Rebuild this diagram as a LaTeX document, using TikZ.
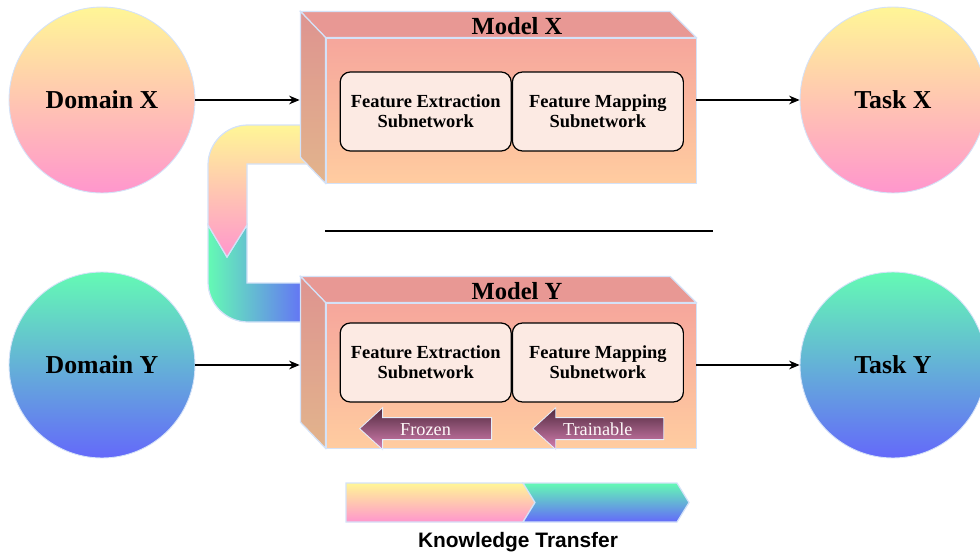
\documentclass[tikz,border=0pt]{standalone}
\usepackage{fontspec}
\setmainfont{Liberation Serif}
\setsansfont{Liberation Sans}
\usetikzlibrary{arrows.meta, positioning, calc}
\definecolor{srcTop}{RGB}{255,246,150}
\definecolor{srcBot}{RGB}{255,150,205}
\definecolor{tgtTop}{RGB}{100,250,180}
\definecolor{tgtBot}{RGB}{100,105,250}
\definecolor{faceTop}{RGB}{232,152,148}
\definecolor{frontTop}{RGB}{246,166,156}
\definecolor{frontBot}{RGB}{255,204,160}
\definecolor{sideTop}{RGB}{222,148,144}
\definecolor{sideBot}{RGB}{226,180,140}
\definecolor{subFill}{RGB}{252,234,227}
\definecolor{rimcolor}{RGB}{212,226,248}
\definecolor{tagTop}{RGB}{80,42,62}
\definecolor{tagBot}{RGB}{214,128,178}

\begin{document}
\begin{tikzpicture}[x=0.02cm, y=-0.02cm,
    >={Stealth[length=6pt, width=5pt]},
    flow/.style={->, line width=0.6pt},
    rimline/.style={draw=rimcolor, line width=0.7pt},
    ball/.style={circle, draw=rimcolor, line width=0.5pt, minimum size=3.72cm, font=\fontsize{14.7}{17}\selectfont\bfseries},
    srcball/.style={ball, top color=srcTop, bottom color=srcBot},
    tgtball/.style={ball, top color=tgtTop, bottom color=tgtBot},
    facebox/.style={draw=rimcolor, line width=0.5pt, minimum width=7.4cm, minimum height=2.9cm, inner sep=0pt, top color=frontTop, bottom color=frontBot},
    subnet/.style={draw, line width=0.7pt, rounded corners=0.2cm, fill=subFill, minimum width=3.42cm, minimum height=1.58cm, align=center, font=\fontsize{10.5}{11.3}\selectfont\bfseries},
    modtitle/.style={font=\fontsize{14}{16}\selectfont\bfseries},
    tagarrow/.style={draw=rimcolor!60!white, line width=0.5pt, top color=tagTop, bottom color=tagBot},
    tagtext/.style={text=white!92!pink, font=\fontsize{10.4}{12}\selectfont},
]
    \useasboundingbox (0,0) rectangle (980,554);

    % domains and tasks
    \node[srcball] (domX) at (102,100) {Domain X};
    \node[tgtball] (domY) at (102,365) {Domain Y};
    \node[srcball] (taskX) at (893,100) {Task X};
    \node[tgtball] (taskY) at (893,365) {Task Y};

    % transfer from model X down to model Y
    \shade[rimline, left color=tgtTop, right color=tgtBot] (208,225) -- (227,257) -- (247,225) -- (247,283) -- (310,283) -- (310,322) -- (248,322) .. controls (226,322) and (208,304) .. (208,282) -- cycle;
    \shade[rimline, top color=srcTop, bottom color=srcBot] (312,125) -- (248,125) .. controls (226,125) and (208,143) .. (208,165) -- (208,225) -- (227,257) -- (247,225) -- (247,164) -- (312,164) -- cycle;

    % model X
    \node[facebox] (modXf) at (511,110.5) {};
    \path[rimline, fill=faceTop] (modXf.north west) -- ++(-25,-26) -- ($(modXf.north east)+(-26,-26)$) -- (modXf.north east) -- cycle;
    \shade[rimline, top color=sideTop, bottom color=sideBot] (modXf.north west) -- ++(-25,-26) -- ($(modXf.south west)+(-25,-26)$) -- (modXf.south west) -- cycle;
    \node[modtitle] (modXt) at ($(modXf.north)+(6,-11)$) {Model X};
    \node[subnet, anchor=west] (feX) at ($(modXf.west)+(14,1)$) {Feature Extraction\\Subnetwork};
    \node[subnet, right=0pt of feX] (fmX) {Feature Mapping\\Subnetwork};
    \coordinate (modXin) at ($(modXf.west)+(-26,0)$);

    % model Y
    \node[facebox] (modYf) at (511,375.5) {};
    \path[rimline, fill=faceTop] (modYf.north west) -- ++(-25,-26) -- ($(modYf.north east)+(-26,-26)$) -- (modYf.north east) -- cycle;
    \shade[rimline, top color=sideTop, bottom color=sideBot] (modYf.north west) -- ++(-25,-26) -- ($(modYf.south west)+(-25,-26)$) -- (modYf.south west) -- cycle;
    \node[modtitle] (modYt) at ($(modYf.north)+(6,-11)$) {Model Y};
    \node[subnet, anchor=west] (feY) at ($(modYf.west)+(14,-13)$) {Feature Extraction\\Subnetwork};
    \node[subnet, right=0pt of feY] (fmY) {Feature Mapping\\Subnetwork};
    \coordinate (modYin) at ($(modYf.west)+(-26,0)$);

    % frozen / trainable tags
    \shade[tagarrow] ($(feY.south west)+(20,26)$) -- ++(23,-21) -- ++(0,10) -- ++(109,0) -- ++(0,22) -- ++(-109,0) -- ++(0,10) -- cycle;
    \node[tagtext] (frz) at ($(feY.south west)+(86,27)$) {Frozen};
    \shade[tagarrow] ($(fmY.south west)+(21,26)$) -- ++(23,-21) -- ++(0,10) -- ++(108,0) -- ++(0,22) -- ++(-108,0) -- ++(0,10) -- cycle;
    \node[tagtext] (trn) at ($(fmY.south west)+(86,27)$) {Trainable};

    % separator
    \draw[line width=0.6pt] (325,231) -- (713,231);

    % data flow
    \draw[flow] (domX) -- (domX -| modXin);
    \draw[flow] (modXf.east |- taskX) -- (taskX);
    \draw[flow] (domY) -- (domY -| modYin);
    \draw[flow] (modYf.east |- taskY) -- (taskY);

    % legend
    \shade[rimline, top color=srcTop, bottom color=srcBot] (346,483) -- (523,483) -- (535,502.5) -- (523,522) -- (346,522) -- cycle;
    \shade[rimline, top color=tgtTop, bottom color=tgtBot] (523,483) -- (677,483) -- (689,502.5) -- (677,522) -- (523,522) -- (535,502.5) -- cycle;
    \node[font=\sffamily\bfseries\fontsize{11.9}{13}\selectfont] (ktLabel) at (518,542) {Knowledge Transfer};
\end{tikzpicture}
\end{document}
